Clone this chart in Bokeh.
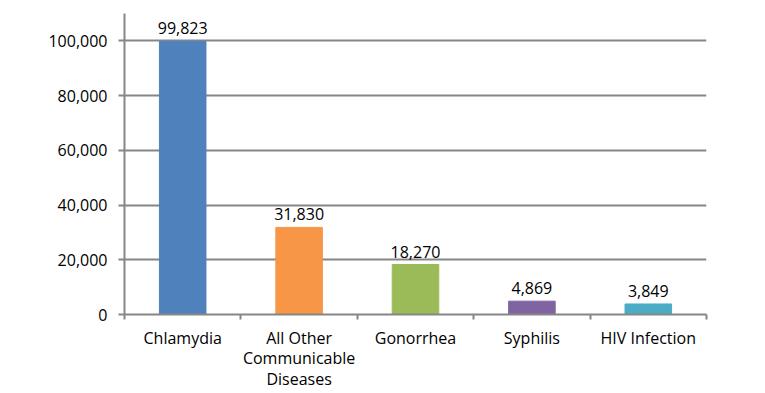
from bokeh.plotting import figure
from bokeh.models import Range1d, FixedTicker, ColumnDataSource, LabelSet, NumeralTickFormatter
from bokeh.core.properties import value
from bokeh.embed import file_html
from bokeh.resources import INLINE

categories = ["Chlamydia", "All Other\nCommunicable\nDiseases", "Gonorrhea", "Syphilis", "HIV Infection"]
values = [99823, 31830, 18270, 4869, 3849]
colors = ["#4F81BD", "#F79646", "#9BBB59", "#8064A2", "#4BACC6"]
y_ticks = [0, 20000, 40000, 60000, 80000, 100000]

FONT = "Open Sans"
GREY = "#868686"

n = len(categories)
xs = [i + 0.5 for i in range(n)]
src = ColumnDataSource(dict(x=xs, top=values, color=colors,
                            label=[f"{v:,}" for v in values]))

p = figure(width=757, height=393, output_backend="svg", toolbar_location=None,
           x_range=Range1d(0, n), y_range=Range1d(0, 110000),
           min_border_left=124, min_border_right=51, min_border_top=13, min_border_bottom=76)
p.outline_line_color = None
p.background_fill_color = "white"

p.vbar(x="x", top="top", width=0.4, color="color", source=src)

labels = LabelSet(x="x", y="top", text="label", source=src, text_align="center",
                  text_baseline="bottom", y_offset=7, text_font=value(FONT),
                  text_font_size=value("16px"), text_color=value("#000000"))
p.add_layout(labels)

# y axis
p.yaxis.ticker = FixedTicker(ticks=y_ticks, minor_ticks=[])
p.yaxis.formatter = NumeralTickFormatter(format="0,0")
p.yaxis.axis_line_color = GREY
p.yaxis.axis_line_width = 2
p.yaxis.major_tick_line_color = GREY
p.yaxis.major_tick_line_width = 2
p.yaxis.major_tick_out = 6
p.yaxis.major_tick_in = 0
p.yaxis.minor_tick_line_color = None
p.yaxis.major_label_standoff = 11
p.yaxis.major_label_text_font = FONT
p.yaxis.major_label_text_font_size = "16px"
p.yaxis.major_label_text_color = "#000000"

# x axis
p.xaxis.ticker = FixedTicker(ticks=xs, minor_ticks=list(range(n + 1)))
p.xaxis.major_label_overrides = {x: c for x, c in zip(xs, categories)}
p.xaxis.axis_line_color = GREY
p.xaxis.axis_line_width = 2
p.xaxis.major_tick_line_color = None
p.xaxis.major_tick_out = 0
p.xaxis.major_tick_in = 0
p.xaxis.minor_tick_line_color = GREY
p.xaxis.minor_tick_line_width = 2
p.xaxis.minor_tick_out = 5
p.xaxis.minor_tick_in = 0
p.xaxis.major_label_standoff = 7
p.xaxis.major_label_text_font = FONT
p.xaxis.major_label_text_font_size = "16px"
p.xaxis.major_label_text_color = "#000000"
p.xaxis.major_label_text_line_height = 0.95

p.xgrid.grid_line_color = None
p.ygrid.ticker = FixedTicker(ticks=y_ticks)
p.ygrid.grid_line_color = GREY
p.ygrid.grid_line_width = 2

open("out.html", "w").write(file_html(p, INLINE))
